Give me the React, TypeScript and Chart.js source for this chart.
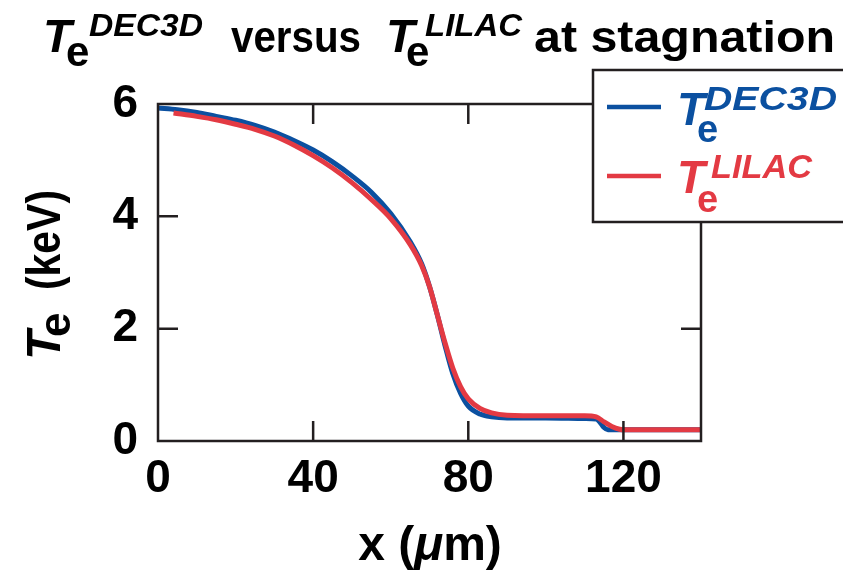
import React, { useEffect, useRef } from "react";
import { Chart, registerables } from "chart.js";

Chart.register(...registerables);

// ---- data ----
const xDec3d = [0, 5, 10, 15, 20, 25, 30, 35, 40, 45, 50, 55, 60, 65, 68, 70, 72, 74, 76, 78, 80, 83, 86, 90, 100, 110, 113, 114, 115, 116, 120, 130, 140];
const teDec3d = [5.93, 5.9, 5.85, 5.78, 5.71, 5.62, 5.5, 5.35, 5.18, 4.97, 4.72, 4.43, 4.05, 3.55, 3.15, 2.75, 2.25, 1.7, 1.2, 0.85, 0.62, 0.48, 0.43, 0.41, 0.41, 0.4, 0.39, 0.33, 0.24, 0.2, 0.2, 0.2, 0.2];
const xLilac = [4, 10, 15, 20, 25, 30, 35, 40, 45, 50, 55, 60, 65, 68, 70, 72, 74, 76, 78, 80, 83, 86, 90, 100, 110, 113, 115, 117, 119, 120, 130, 140];
const teLilac = [5.84, 5.78, 5.72, 5.64, 5.55, 5.43, 5.27, 5.08, 4.86, 4.6, 4.3, 3.96, 3.5, 3.12, 2.75, 2.25, 1.75, 1.3, 0.97, 0.75, 0.58, 0.5, 0.46, 0.45, 0.45, 0.43, 0.34, 0.26, 0.21, 0.2, 0.2, 0.2];
const xTicks = [0, 40, 80, 120];
const yTicks = [0, 2, 4, 6];

const BLUE = "#0b50a0";
const RED = "#e33a43";
const AXIS = "#231f20";
const FONT = "'Liberation Sans', Arial, Helvetica, sans-serif";

function txt(ctx: CanvasRenderingContext2D, s: string, x: number, y: number, font: string, color: string, w?: number) {
  ctx.save();
  ctx.font = font;
  ctx.fillStyle = color;
  ctx.textAlign = "left";
  ctx.textBaseline = "alphabetic";
  ctx.translate(x, y);
  if (w) {
    const m = ctx.measureText(s).width;
    ctx.scale(w / m, 1);
  }
  ctx.fillText(s, 0, 0);
  ctx.restore();
}

const decorPlugin = {
  id: "decor",
  afterDatasetsDraw(chart: any) {
    const ctx: CanvasRenderingContext2D = chart.ctx;
    const xs = chart.scales.x;
    const ys = chart.scales.y;
    const a = chart.chartArea;
    ctx.save();
    ctx.strokeStyle = AXIS;
    ctx.lineWidth = 2.5;
    ctx.strokeRect(a.left, a.top, a.right - a.left, a.bottom - a.top);
    const tl = 20;
    ctx.beginPath();
    for (const v of xTicks) {
      if (v === 0) continue;
      const px = xs.getPixelForValue(v);
      ctx.moveTo(px, a.bottom);
      ctx.lineTo(px, a.bottom - tl);
      ctx.moveTo(px, a.top);
      ctx.lineTo(px, a.top + tl);
    }
    for (const v of yTicks) {
      if (v === 0 || v === 6) continue;
      const py = ys.getPixelForValue(v);
      ctx.moveTo(a.left, py);
      ctx.lineTo(a.left + tl, py);
      ctx.moveTo(a.right, py);
      ctx.lineTo(a.right - tl, py);
    }
    ctx.stroke();
    ctx.restore();
  },
  afterDraw(chart: any) {
    const ctx: CanvasRenderingContext2D = chart.ctx;
    // title
    txt(ctx, "T", 43, 52, `italic bold 47px ${FONT}`, "#000");
    txt(ctx, "e", 66, 66, `bold 42px ${FONT}`, "#000");
    txt(ctx, "DEC3D", 89, 36, `italic bold 31px ${FONT}`, "#000", 114);
    txt(ctx, "versus", 231, 52, `bold 44px ${FONT}`, "#000", 130);
    txt(ctx, "T", 386, 52, `italic bold 47px ${FONT}`, "#000");
    txt(ctx, "e", 406, 66, `bold 42px ${FONT}`, "#000");
    txt(ctx, "LILAC", 425, 36, `italic bold 31px ${FONT}`, "#000", 97);
    txt(ctx, "at stagnation", 534, 52, `bold 44px ${FONT}`, "#000", 301);

    // legend box
    ctx.save();
    ctx.fillStyle = "#fff";
    ctx.strokeStyle = AXIS;
    ctx.lineWidth = 2.5;
    ctx.fillRect(593, 70, 260, 152);
    ctx.strokeRect(593, 70, 260, 152);
    ctx.lineWidth = 4.5;
    ctx.strokeStyle = BLUE;
    ctx.beginPath();
    ctx.moveTo(607, 107);
    ctx.lineTo(661, 107);
    ctx.stroke();
    ctx.strokeStyle = RED;
    ctx.beginPath();
    ctx.moveTo(607, 176);
    ctx.lineTo(661, 176);
    ctx.stroke();
    ctx.restore();
    txt(ctx, "T", 677, 125, `italic bold 46px ${FONT}`, BLUE);
    txt(ctx, "e", 697, 142, `bold 38px ${FONT}`, BLUE);
    txt(ctx, "DEC3D", 704, 110, `italic bold 33px ${FONT}`, BLUE, 133);
    txt(ctx, "T", 677, 193, `italic bold 46px ${FONT}`, RED);
    txt(ctx, "e", 697, 212, `bold 38px ${FONT}`, RED);
    txt(ctx, "LILAC", 711, 178, `italic bold 33px ${FONT}`, RED, 101);

    // y axis title (rotated)
    ctx.save();
    ctx.translate(60, 360);
    ctx.rotate(-Math.PI / 2);
    txt(ctx, "T", 0, 0, `italic bold 48px ${FONT}`, "#000");
    txt(ctx, "e", 23, 10, `bold 44px ${FONT}`, "#000");
    txt(ctx, "(keV)", 70, 0, `bold 48px ${FONT}`, "#000", 100);
    ctx.restore();

    // x axis title
    const xf = `bold 48px ${FONT}`;
    const xfi = `italic bold 48px ${FONT}`;
    ctx.save();
    ctx.font = xf;
    const w1 = ctx.measureText("x (").width;
    const w3 = ctx.measureText("m)").width;
    ctx.font = xfi;
    const w2 = ctx.measureText("\u03bc").width;
    ctx.restore();
    const total = w1 + w2 + w3;
    const x0 = 430 - total / 2;
    txt(ctx, "x (", x0, 560, xf, "#000");
    txt(ctx, "\u03bc", x0 + w1, 560, xfi, "#000");
    txt(ctx, "m)", x0 + w1 + w2, 560, xf, "#000");
  },
};

export default function App() {
  const ref = useRef<HTMLCanvasElement | null>(null);
  useEffect(() => {
    if (!ref.current) return;
    const chart = new Chart(ref.current, {
      type: "line",
      data: {
        datasets: [
          {
            label: "T_e^LILAC",
            data: xLilac.map((x, i) => ({ x, y: teLilac[i] })),
            borderColor: RED,
            borderWidth: 5,
            pointRadius: 0,
            cubicInterpolationMode: "monotone",
            fill: false,
          },
          {
            label: "T_e^DEC3D",
            data: xDec3d.map((x, i) => ({ x, y: teDec3d[i] })),
            borderColor: BLUE,
            borderWidth: 5,
            pointRadius: 0,
            cubicInterpolationMode: "monotone",
            fill: false,
          },
        ],
      },
      options: {
        animation: false,
        responsive: false,
        devicePixelRatio: 1,
        layout: { padding: { left: 0, top: 104, right: 142, bottom: 0 } },
        plugins: { legend: { display: false }, title: { display: false }, tooltip: { enabled: false } },
        scales: {
          x: {
            type: "linear",
            min: 0,
            max: 140,
            grid: { display: false, drawTicks: false },
            border: { display: false },
            afterBuildTicks: (s: any) => {
              s.ticks = xTicks.map((v) => ({ value: v }));
            },
            afterFit: (s: any) => {
              s.height = 133;
            },
            ticks: {
              padding: 11,
              color: "#000",
              font: { family: FONT, weight: "bold", size: 46 },
              maxRotation: 0,
            },
          },
          y: {
            type: "linear",
            min: 0,
            max: 6,
            grid: { display: false, drawTicks: false },
            border: { display: false },
            afterBuildTicks: (s: any) => {
              s.ticks = yTicks.map((v) => ({ value: v }));
            },
            afterFit: (s: any) => {
              s.width = 158;
            },
            ticks: {
              padding: 20,
              color: "#000",
              font: { family: FONT, weight: "bold", size: 46 },
            },
          },
        },
      },
      plugins: [decorPlugin],
    } as any);
    return () => chart.destroy();
  }, []);
  return (
    <div style={{ position: "fixed", left: 0, top: 0, width: 843, height: 574, background: "#fff" }}>
      <canvas ref={ref} width={843} height={574} style={{ display: "block", width: 843, height: 574 }} />
    </div>
  );
}
